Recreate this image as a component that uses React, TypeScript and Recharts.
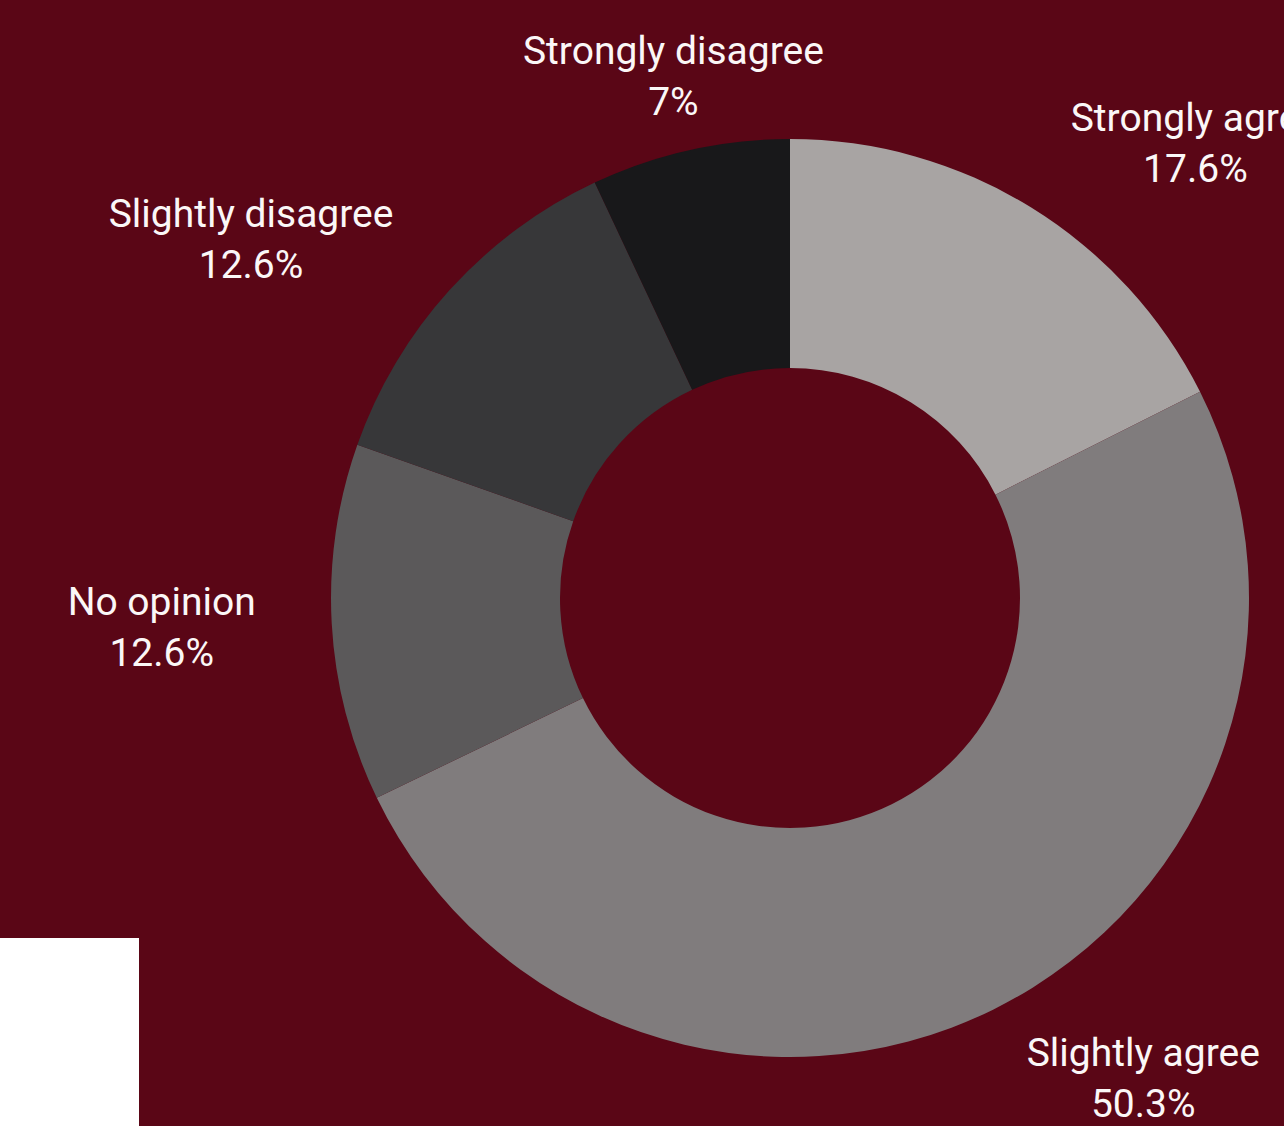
import React from "react"
import { PieChart, Pie, Cell } from "recharts"

const categories = ["Strongly agree", "Slightly agree", "No opinion", "Slightly disagree", "Strongly disagree"]
const shares = [17.6, 50.3, 12.6, 12.6, 7]
const sliceColors = ["#a8a4a3", "#807c7d", "#5b595a", "#373739", "#18181a"]

const data = categories.map((name, i) => ({ name, value: shares[i] }))

const BG = "#5a0616"
const FONT = "Roboto, 'Noto Sans', sans-serif"
const FONT_SIZE = 39
const RAD = Math.PI / 180

let ctx: CanvasRenderingContext2D | null = null
function textWidth(s: string) {
  if (!ctx) ctx = document.createElement("canvas").getContext("2d")
  if (!ctx) return s.length * FONT_SIZE * 0.5
  ctx.font = `${FONT_SIZE}px ${FONT}`
  return ctx.measureText(s).width
}

const renderLabel = (props: any) => {
  const { cx, cy, midAngle, outerRadius, payload } = props
  const r = outerRadius + 76
  const cos = Math.cos(-midAngle * RAD)
  const x = cx + r * cos
  const y = cy + r * Math.sin(-midAngle * RAD)
  const w = textWidth(payload.name)
  // near-vertical labels sit centred on the ray, others hang off to the side
  const centre = Math.abs(cos) < 0.3 ? x : x + Math.sign(cos) * (w / 2)
  return (
    <text x={centre} y={y} textAnchor="middle" fill="#fbf7f7" fontFamily={FONT} fontSize={FONT_SIZE}>
      <tspan x={centre} y={y - 12}>{payload.name}</tspan>
      <tspan x={centre} y={y + 39}>{`${payload.value}%`}</tspan>
    </text>
  )
}

export default function App() {
  return (
    <div style={{ position: "absolute", left: 0, top: 0, width: 1284, height: 1126, background: BG, overflow: "hidden" }}>
      <PieChart width={1284} height={1126} margin={{ top: 0, right: 0, bottom: 0, left: 0 }}>
        <Pie
          data={data}
          dataKey="value"
          nameKey="name"
          cx={790}
          cy={598}
          innerRadius={230}
          outerRadius={459}
          startAngle={90}
          endAngle={-270}
          stroke="none"
          label={renderLabel}
          labelLine={false}
          isAnimationActive={false}
        >
          {data.map((d, i) => (
            <Cell key={d.name} fill={sliceColors[i]} />
          ))}
        </Pie>
      </PieChart>
      <div style={{ position: "absolute", left: 0, top: 938, width: 139, height: 188, background: "#ffffff" }} />
    </div>
  )
}
